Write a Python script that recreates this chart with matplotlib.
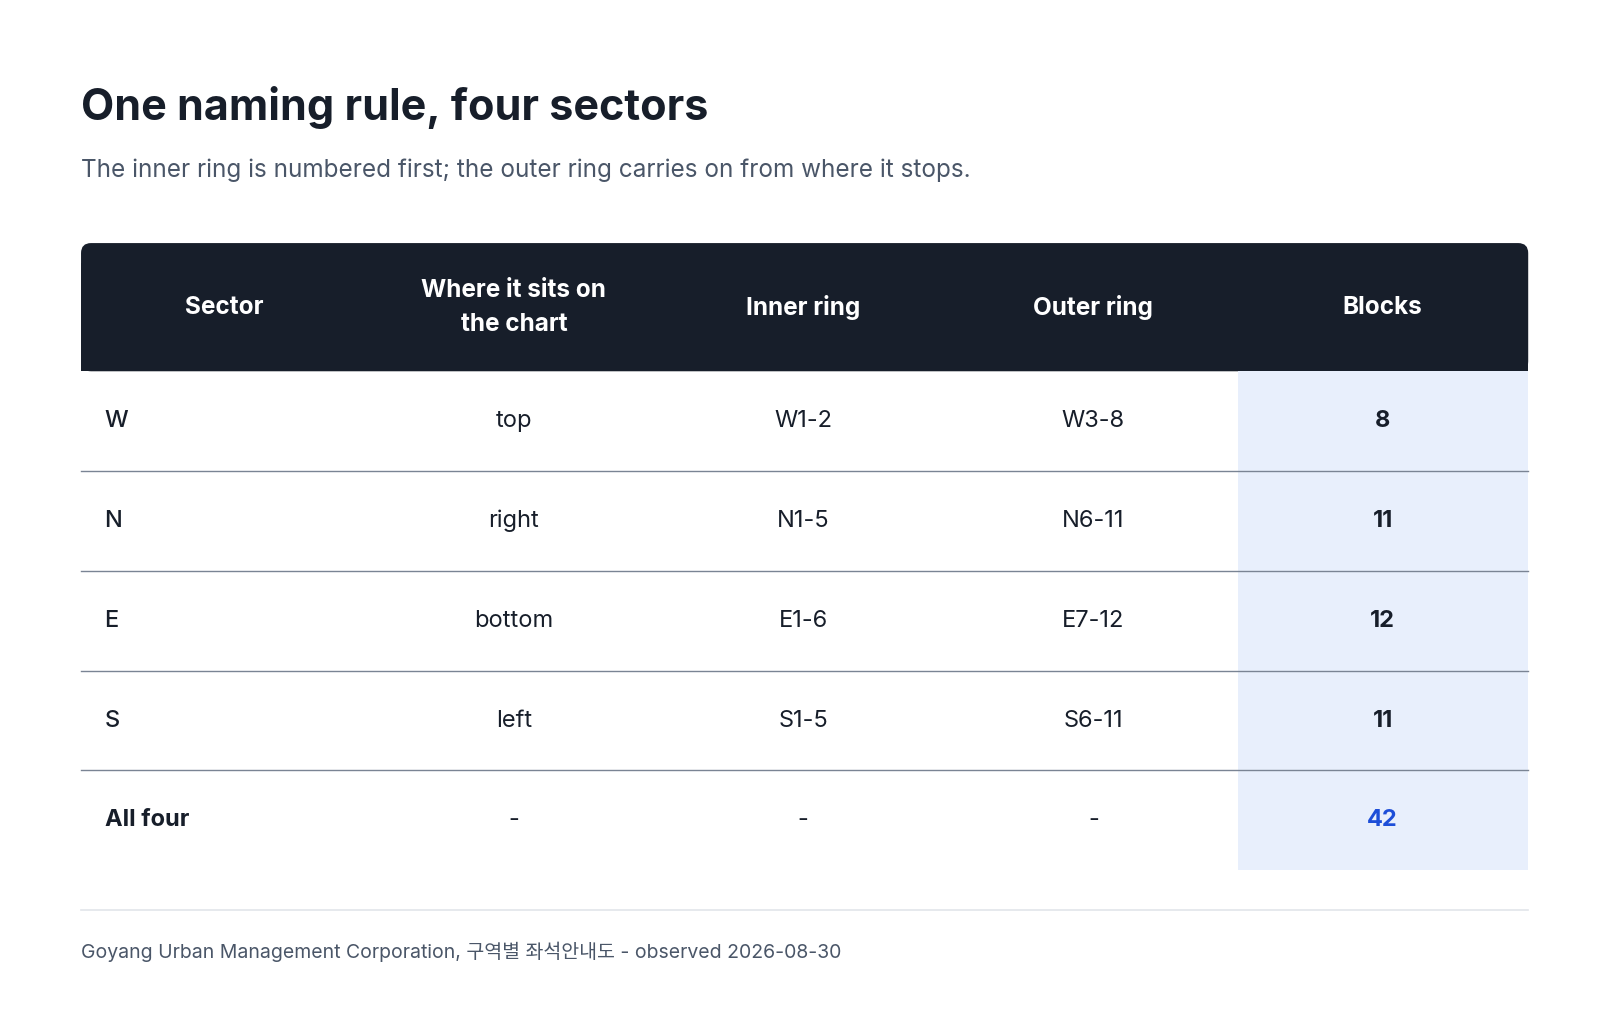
import matplotlib
matplotlib.use("Agg")
import matplotlib.pyplot as plt
from matplotlib.patches import FancyBboxPatch, Rectangle

plt.rcParams['font.family'] = ['Inter', 'Noto Sans CJK KR', 'DejaVu Sans']

# data
columns = ["Sector", "Where it sits on\nthe chart", "Inner ring", "Outer ring", "Blocks"]
sectors = ["W", "N", "E", "S", "All four"]
positions = ["top", "right", "bottom", "left", "-"]
inner = ["W1-2", "N1-5", "E1-6", "S1-5", "-"]
outer = ["W3-8", "N6-11", "E7-12", "S6-11", "-"]
blocks = [8, 11, 12, 11, 42]

W, H = 1600, 1024
fig = plt.figure(figsize=(W / 100, H / 100), dpi=100)
ax = fig.add_axes([0, 0, 1, 1])
ax.set_xlim(0, W)
ax.set_ylim(H, 0)
ax.axis("off")

s = 1600 / 1560  # reference read at displayed scale
dark = "#171e2a"
left, right = 79 * s, 1490 * s
head_top, head_bot = 237 * s, 362 * s
row_h = 97.3 * s
col_x = [x * s for x in [219, 501, 783, 1066, 1348]]
blk_left = 1207 * s

ax.text(left, 105 * s, "One naming rule, four sectors", fontsize=31, fontweight="bold",
        color=dark, va="center", ha="left")
ax.text(left, 166 * s, "The inner ring is numbered first; the outer ring carries on from where it stops.",
        fontsize=17.5, color="#4a5668", va="center", ha="left")

# header
ax.add_patch(FancyBboxPatch((left, head_top), right - left, head_bot - head_top,
                            boxstyle="round,pad=0,rounding_size=10", fc=dark, ec="none"))
ax.add_patch(Rectangle((left, head_top + 20), right - left, head_bot - head_top - 20, fc=dark, ec="none"))
for x, c in zip(col_x, columns):
    ax.text(x, (head_top + head_bot) / 2, c, fontsize=17.5, fontweight="bold", color="white",
            ha="center", va="center", linespacing=1.6)

# blocks shading
n = len(sectors)
ax.add_patch(Rectangle((blk_left, head_bot), right - blk_left, row_h * n, fc="#e8effc", ec="none"))

for i in range(n):
    yc = head_bot + row_h * (i + 0.5)
    last = i == n - 1
    ax.text(102 * s, yc, sectors[i], fontsize=17, color=dark, ha="left", va="center",
            fontweight="bold" if last else "medium")
    for x, v in zip(col_x[1:4], [positions[i], inner[i], outer[i]]):
        ax.text(x, yc, v, fontsize=17, color=dark, ha="center", va="center")
    ax.text(col_x[4], yc, str(blocks[i]), fontsize=17, fontweight="bold",
            color="#1d4ed8" if last else dark, ha="center", va="center")
    if not last:
        yl = head_bot + row_h * (i + 1)
        ax.plot([left, right], [yl, yl], color="#7a8494", lw=1)

ax.plot([left, right], [887 * s, 887 * s], color="#e2e5ea", lw=1.2)
ax.text(left, 928 * s, "Goyang Urban Management Corporation, 구역별 좌석안내도 - observed 2026-08-30",
        fontsize=14, color="#4a5668", ha="left", va="center")

fig.savefig("out.png", dpi=100, facecolor="white")
